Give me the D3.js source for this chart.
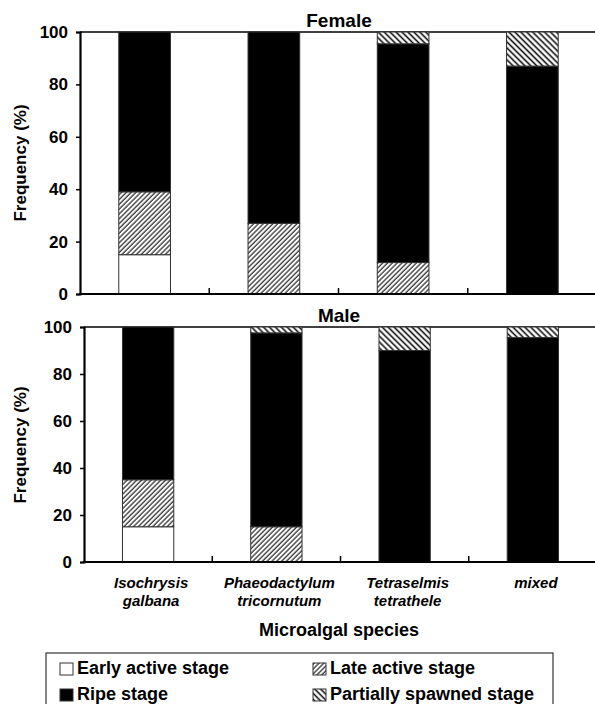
<!DOCTYPE html>
<html>
<head>
<meta charset="utf-8">
<script src="https://cdn.jsdelivr.net/npm/d3@7"></script>
<style>
    body { margin: 0; background: #fff; }
    text { font-family: "Liberation Sans", Arial, sans-serif; font-weight: bold; fill: #000; }
</style>
</head>
<body>
<div id="chart"></div>
<script>
// species names (two lines each), stages and values
var species = [["Isochrysis", "galbana"], ["Phaeodactylum", "tricornutum"], ["Tetraselmis", "tetrathele"], ["mixed", ""]];
var stages = ["Early active stage", "Late active stage", "Ripe stage", "Partially spawned stage"];

var femaleEarly   = [15, 0, 0, 0];
var femaleLate    = [24, 27, 12, 0];
var femaleRipe    = [61, 73, 83.5, 87];
var femalePartial = [0, 0, 4.5, 13];

var maleEarly   = [15, 0, 0, 0];
var maleLate    = [20, 15, 0, 0];
var maleRipe    = [65, 82.5, 90, 95.5];
var malePartial = [0, 2.5, 10, 4.5];

var yTicks = [0, 20, 40, 60, 80, 100];

var W = 595, H = 704;
var svg = d3.select("#chart").append("svg")
    .attr("width", W)
    .attr("height", H);

// hatch patterns
var defs = svg.append("defs");
var late = defs.append("pattern")
    .attr("id", "late")
    .attr("patternUnits", "userSpaceOnUse")
    .attr("width", 3.4).attr("height", 3.4)
    .attr("patternTransform", "rotate(45)");
late.append("rect").attr("width", 3.4).attr("height", 3.4).attr("fill", "#fff");
late.append("line").attr("x1", 1).attr("y1", 0).attr("x2", 1).attr("y2", 3.4)
    .attr("stroke", "#333").attr("stroke-width", 1.3);

var partial = defs.append("pattern")
    .attr("id", "partial")
    .attr("patternUnits", "userSpaceOnUse")
    .attr("width", 4.2).attr("height", 4.2)
    .attr("patternTransform", "rotate(-45)");
partial.append("rect").attr("width", 4.2).attr("height", 4.2).attr("fill", "#fff");
partial.append("line").attr("x1", 1.2).attr("y1", 0).attr("x2", 1.2).attr("y2", 4.2)
    .attr("stroke", "#111").attr("stroke-width", 1.6);

var fills = ["#fff", "url(#late)", "#000", "url(#partial)"];

function makeRows(early, late, ripe, part) {
    return species.map(function (s, i) {
        return { name: s[0], early: early[i], late: late[i], ripe: ripe[i], partial: part[i] };
    });
}

function drawPanel(rows, title, left, top, bottom, labelY) {
    var x = d3.scaleBand().domain(species.map(function (s) { return s[0]; }))
        .range([left, 597]).padding(0);
    var y = d3.scaleLinear().domain([0, 100]).range([bottom, top]);
    var barW = x.bandwidth() * 0.4;

    var stack = d3.stack().keys(["early", "late", "ripe", "partial"])(rows);

    // plot frame top line
    svg.append("line")
        .attr("x1", left).attr("x2", W)
        .attr("y1", y(100)).attr("y2", y(100))
        .attr("stroke", "#000").attr("stroke-width", 1.5);

    stack.forEach(function (layer, k) {
        svg.append("g").selectAll("rect")
            .data(layer.filter(function (d) { return d[1] - d[0] > 0; }))
            .enter().append("rect")
            .attr("x", function (d) { return x(d.data.name) + (x.bandwidth() - barW) / 2; })
            .attr("y", function (d) { return y(d[1]); })
            .attr("width", barW)
            .attr("height", function (d) { return y(d[0]) - y(d[1]); })
            .attr("fill", fills[k])
            .attr("stroke", "#333")
            .attr("stroke-width", 1);
    });

    // y axis
    var yAxis = d3.axisLeft(y).tickValues(yTicks).tickSize(4).tickPadding(8);
    var gy = svg.append("g")
        .attr("transform", "translate(" + left + ",0)")
        .call(yAxis);
    gy.select(".domain").attr("stroke-width", 2.2);
    gy.selectAll(".tick line").attr("stroke-width", 1.5);
    gy.selectAll("text").style("font-size", "17px");

    // x axis, ticks between categories pointing inward
    var gx = svg.append("g").attr("transform", "translate(0," + bottom + ")");
    gx.append("line")
        .attr("x1", left - 1).attr("x2", W)
        .attr("stroke", "#000").attr("stroke-width", 2.2);
    gx.selectAll(".sep")
        .data(species.slice(1))
        .enter().append("line")
        .attr("x1", function (s) { return x(s[0]); })
        .attr("x2", function (s) { return x(s[0]); })
        .attr("y1", 0).attr("y2", -6)
        .attr("stroke", "#000").attr("stroke-width", 1.5);

    svg.append("text")
        .attr("x", 339).attr("y", top - 5)
        .attr("text-anchor", "middle")
        .style("font-size", "19px")
        .text(title);

    svg.append("text")
        .attr("transform", "translate(" + 26 + "," + labelY + ") rotate(-90)")
        .attr("text-anchor", "middle")
        .style("font-size", "17px")
        .text("Frequency (%)");

    return x;
}

var xTop = drawPanel(makeRows(femaleEarly, femaleLate, femaleRipe, femalePartial), "Female", 80, 32, 294, 163);
var xBot = drawPanel(makeRows(maleEarly, maleLate, maleRipe, malePartial), "Male", 84, 327, 562, 445);

// category labels
var cat = svg.append("g").selectAll("text")
    .data(species)
    .enter().append("text")
    .attr("text-anchor", "middle")
    .style("font-size", "15px")
    .style("font-style", "italic");
cat.append("tspan")
    .attr("x", function (s) { return xBot(s[0]) + xBot.bandwidth() / 2 + 3; })
    .attr("y", 588)
    .text(function (s) { return s[0]; });
cat.append("tspan")
    .attr("x", function (s) { return xBot(s[0]) + xBot.bandwidth() / 2 + 3; })
    .attr("y", 606)
    .text(function (s) { return s[1]; });

svg.append("text")
    .attr("x", 339).attr("y", 636)
    .attr("text-anchor", "middle")
    .style("font-size", "18px")
    .text("Microalgal species");

// legend
svg.append("rect")
    .attr("x", 46).attr("y", 653)
    .attr("width", 507).attr("height", 60)
    .attr("fill", "#fff")
    .attr("stroke", "#333").attr("stroke-width", 1.2);

var legendPos = [[60, 663], [313, 663], [60, 689], [313, 689]];
var leg = svg.append("g").selectAll("g")
    .data(stages)
    .enter().append("g")
    .attr("transform", function (d, i) { return "translate(" + legendPos[i][0] + "," + legendPos[i][1] + ")"; });
leg.append("rect")
    .attr("width", 13).attr("height", 12)
    .attr("fill", function (d, i) { return fills[i]; })
    .attr("stroke", "#333").attr("stroke-width", 1);
leg.append("text")
    .attr("x", 17).attr("y", 11)
    .style("font-size", "18px")
    .text(function (d) { return d; });
</script>
</body>
</html>
